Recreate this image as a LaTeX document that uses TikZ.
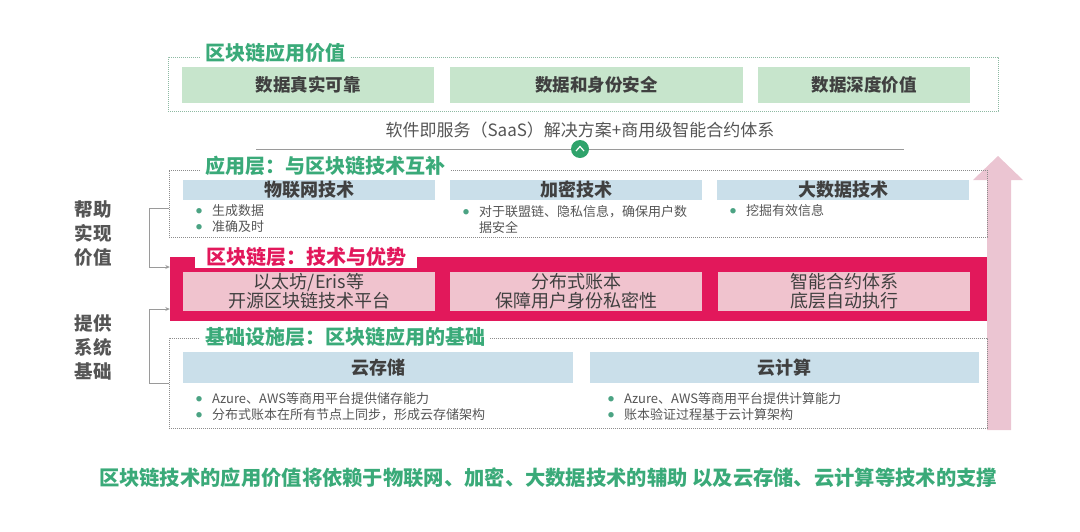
\documentclass[tikz,border=0pt]{standalone}
\usepackage{fontspec}
\setmainfont{Noto Sans CJK SC}
\usetikzlibrary{arrows.meta}

\definecolor{titlegreen}{HTML}{3AAA79}
\definecolor{valfill}{HTML}{C7E5CC}
\definecolor{valdot}{HTML}{8DB9A2}
\definecolor{hdrfill}{HTML}{CADFEA}
\definecolor{chainred}{HTML}{E2185B}
\definecolor{pinkfill}{HTML}{F0C3CE}
\definecolor{arrowpink}{HTML}{EBC5D2}
\definecolor{headgray}{HTML}{404040}
\definecolor{bodygray}{HTML}{555555}
\definecolor{dotgray}{HTML}{8C8C8C}
\definecolor{dotgreen}{HTML}{4BA383}
\definecolor{brkgray}{HTML}{9A9A9A}
\definecolor{upgreen}{HTML}{2FA36B}

\newcommand\bitem{\makebox[16pt][l]{\color{dotgreen}\fontsize{6}{6}\selectfont\raisebox{2pt}{●}}}

\tikzset{
  layer/.style={draw=dotgray, line width=0.8pt, dash pattern=on 0.8pt off 1.2pt, inner sep=0pt},
  layertitle/.style={anchor=west, fill=white, inner xsep=5pt, inner ysep=1pt,
    font=\fontsize{20}{22}\selectfont\bfseries, text=titlegreen},
  valbox/.style={fill=valfill, minimum height=36pt, inner sep=0pt,
    font=\fontsize{17.5}{20}\selectfont\bfseries, text=headgray},
  hdrbox/.style={fill=hdrfill, inner sep=0pt,
    font=\fontsize{18}{20}\selectfont\bfseries, text=headgray},
  techbox/.style={fill=pinkfill, minimum width=252pt, minimum height=39pt, inner sep=0pt,
    align=center, font=\fontsize{18}{19}\selectfont, text=headgray},
  bullets/.style={anchor=west, align=left, inner sep=0pt,
    font=\fontsize{13}{16}\selectfont, text=bodygray},
  sidelabel/.style={align=center, font=\fontsize{18.5}{24}\selectfont\bfseries, text=bodygray},
  brk/.style={draw=brkgray, line width=1pt, -{Stealth[length=4.5pt,width=4pt]}},
}

\begin{document}
\begin{tikzpicture}[x=1pt,y=-1pt]
    \useasboundingbox (0,0) rectangle (1080,531);

    % Big arrow on the right
    \fill[arrowpink] (987,430) -- (987,180) -- (973,180) -- (998,156)
        -- (1023,180) -- (1011,180) -- (1011,430) -- cycle;

    % Value layer
    \node[layer, draw=valdot, minimum width=830pt, minimum height=54pt] (value) at (583,84) {};
    \node[layertitle] (valuetitle) at (200,53) {区块链应用价值};
    \node[valbox, minimum width=252pt] (val1) at (308,85) {数据真实可靠};
    \node[valbox, minimum width=293pt] (val2) at (596.5,85) {数据和身份安全};
    \node[valbox, minimum width=212pt] (val3) at (864,85) {数据深度价值};

    % SaaS line
    \node[font=\fontsize{17}{19}\selectfont, text=bodygray] (saas) at (580,130)
        {软件即服务（SaaS）解决方案+商用级智能合约体系};
    \draw[brkgray, line width=1pt] (256,149) -- (904,149);
    \node[circle, fill=upgreen, minimum size=18pt, inner sep=0pt] (up) at (580,149) {};
    \draw[white, line width=1.2pt] ([xshift=-4pt,yshift=-2pt]up.center)
        -- ([yshift=2.5pt]up.center) -- ([xshift=4pt,yshift=-2pt]up.center);

    % Application layer
    \node[layer, minimum width=818pt, minimum height=67pt] (app) at (578,203.5) {};
    \node[layertitle] (apptitle) at (200,166) {应用层：与区块链技术互补};
    \node[hdrbox, minimum width=252pt, minimum height=20pt] (iot) at (309,190) {物联网技术};
    \node[hdrbox, minimum width=252pt, minimum height=20pt] (crypto) at (576,190) {加密技术};
    \node[hdrbox, minimum width=252pt, minimum height=20pt] (bigdata) at (843,190) {大数据技术};
    \node[bullets] (iotlist) at (196,219) {\bitem 生成数据\\ \bitem 准确及时};
    \node[bullets] (cryptolist) at (463,219) {\bitem 对于联盟链、隐私信息，确保用户数\\ \hspace*{16pt}据安全};
    \node[bullets] (bigdatalist) at (730,211) {\bitem 挖掘有效信息};

    % Blockchain layer
    \node[fill=chainred, minimum width=817pt, minimum height=64pt, inner sep=0pt] (chain) at (578.5,289) {};
    \node[fill=white, minimum width=222pt, text height=15pt, text depth=3pt, inner ysep=0.5pt,
        font=\fontsize{20}{22}\selectfont\bfseries, text=chainred] (chaintitle) at (306,258) {区块链层：技术与优势};
    \node[techbox] (eth) at (309,291.5) {以太坊/Eris等\\开源区块链技术平台};
    \node[techbox] (ledger) at (576,291.5) {分布式账本\\保障用户身份私密性};
    \node[techbox] (smart) at (844,291.5) {智能合约体系\\底层自动执行};

    % Infrastructure layer
    \node[layer, minimum width=818pt, minimum height=90pt] (infra) at (578,383) {};
    \node[layertitle] (infratitle) at (200,337) {基础设施层：区块链应用的基础};
    \node[hdrbox, minimum width=390pt, minimum height=31pt] (storage) at (378,367.5) {云存储};
    \node[hdrbox, minimum width=389pt, minimum height=31pt] (compute) at (784.5,367.5) {云计算};
    \node[bullets] (storagelist) at (196,407) {\bitem Azure、AWS等商用平台提供储存能力\\ \bitem 分布式账本在所有节点上同步，形成云存储架构};
    \node[bullets] (computelist) at (608,407) {\bitem Azure、AWS等商用平台提供计算能力\\ \bitem 账本验证过程基于云计算架构};

    % Side labels and brackets
    \node[sidelabel] (help) at (93,234) {帮助\\实现\\价值};
    \node[sidelabel] (base) at (93,347) {提供\\系统\\基础};
    \draw[brk] (app.west |- 0,208) -- ++(-19,0) |- (chain.west |- 0,267);
    \draw[brk] (infra.west |- 0,383) -- ++(-19,0) |- (chain.west |- 0,309);

    % Summary
    \node[font=\fontsize{20.3}{22}\selectfont\bfseries, text=titlegreen] (summary) at (548,478)
        {区块链技术的应用价值将依赖于物联网、加密、大数据技术的辅助 以及云存储、云计算等技术的支撑};
\end{tikzpicture}
\end{document}
